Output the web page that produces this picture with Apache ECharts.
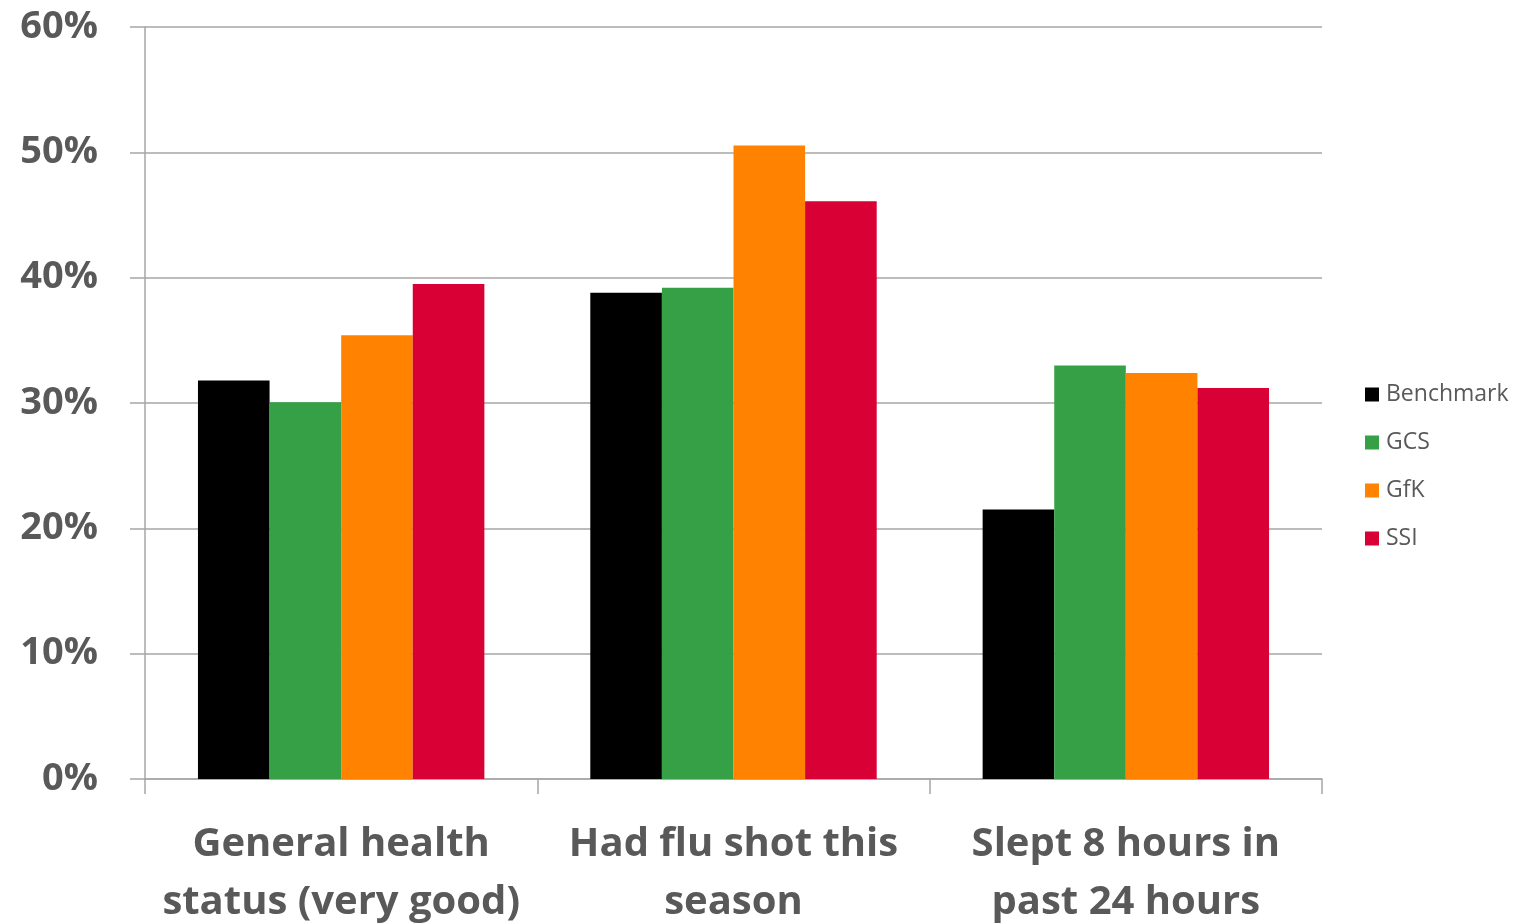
<!DOCTYPE html>
<html>
<head>
<meta charset="utf-8">
<script src="https://cdn.jsdelivr.net/npm/echarts@6/dist/echarts.min.js"></script>
<style>
html,body{margin:0;padding:0;background:#fff;}
#chart{width:1518px;height:923px;}
</style>
</head>
<body>
<div id="chart"></div>
<script>
const categories = ['General health\nstatus (very good)', 'Had flu shot this\nseason', 'Slept 8 hours in\npast 24 hours'];
const seriesNames = ['Benchmark', 'GCS', 'GfK', 'SSI'];
const benchmark = [31.8, 38.8, 21.5];
const gcs = [30.05, 39.2, 33.0];
const gfk = [35.4, 50.55, 32.4];
const ssi = [39.5, 46.1, 31.2];
const yTicks = [0, 10, 20, 30, 40, 50, 60];
const colors = ['#000000', '#36A047', '#FF8300', '#D80035'];

const values = [benchmark, gcs, gfk, ssi];
const chart = echarts.init(document.getElementById('chart'));
const font = '"Open Sans", sans-serif';
chart.setOption({
  animation: false,
  grid: {left: 145, right: 196, top: 27, bottom: 144, containLabel: false, outerBoundsMode: 'none'},
  legend: {
    orient: 'vertical', left: 1360, top: 378,
    itemWidth: 14, itemHeight: 14, itemGap: 25,
    icon: 'rect',
    textStyle: {fontFamily: font, fontSize: 23, color: '#595959', padding: [0,0,0,2]},
    data: seriesNames
  },
  xAxis: {
    type: 'category', data: categories,
    axisLine: {lineStyle: {color: '#A6A6A6', width: 1.5}},
    axisTick: {show: true, length: 15, lineStyle: {color: '#A6A6A6', width: 1.5}},
    axisLabel: {fontFamily: font, fontWeight: 'bold', fontSize: 40, color: '#595959', lineHeight: 58, margin: 37, interval: 0}
  },
  yAxis: {
    type: 'value', min: yTicks[0], max: yTicks[yTicks.length-1], interval: 10,
    axisLine: {show: true, lineStyle: {color: '#A6A6A6', width: 1.5}},
    axisTick: {show: true, length: 15, lineStyle: {color: '#A6A6A6', width: 1.5}},
    splitLine: {lineStyle: {color: '#A6A6A6', width: 1.5}},
    axisLabel: {fontFamily: font, fontWeight: 'bold', fontSize: 38, color: '#595959', margin: 47, padding: [3,0,0,0], formatter: v => v + '%'}
  },
  series: seriesNames.map((n, i) => ({
    name: n, type: 'bar', data: values[i],
    barGap: '0%', barCategoryGap: '27%',
    itemStyle: {color: colors[i]}
  }))
});
</script>
</body>
</html>
